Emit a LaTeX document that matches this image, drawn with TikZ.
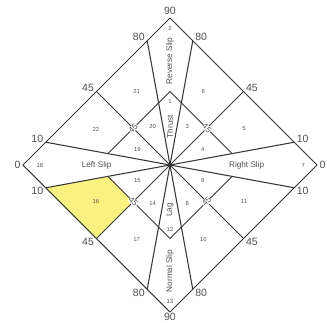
\documentclass[tikz,border=0pt]{standalone}
\usepackage{fontspec}
\setmainfont{Liberation Sans}
\usetikzlibrary{calc}

\definecolor{slipyellow}{RGB}{250,242,128}
\definecolor{lineink}{RGB}{55,55,55}
\definecolor{textink}{RGB}{80,80,80}

\begin{document}
\begin{tikzpicture}[
  % --- global styling
  faultline/.style={draw=lineink, line width=0.9pt, line join=round},
  edgelabel/.style={text=textink, font=\fontsize{9}{10}\selectfont, inner sep=2pt},
  midlabel/.style={text=textink, font=\fontsize{7}{8}\selectfont, fill=white, inner sep=0.2pt},
  fieldnum/.style={text=textink, font=\fontsize{5}{6}\selectfont, inner sep=0pt},
  fieldname/.style={text=textink, font=\fontsize{7}{8}\selectfont, inner sep=0pt},
]

\def\R{4.41}
\useasboundingbox (-5.1,-4.71) rectangle (4.71,4.95);

%========================
% Corners of the diamond
%========================
\coordinate (C) at (0,0);
\coordinate (L) at (-\R,0);
\coordinate (T) at (0,\R);
\coordinate (Rv) at (\R,0);
\coordinate (B) at (0,-\R);

% tick points on the four sides (0 at side corner, 90 at top/bottom)
\foreach \s/\a/\b in {UL/L/T, UR/Rv/T, LL/L/B, LR/Rv/B} {
  \coordinate (\s10) at ($(\a)!0.155!(\b)$);
  \coordinate (\s45) at ($(\a)!0.5!(\b)$);
  \coordinate (\s80) at ($(\a)!0.845!(\b)$);
  % half way in, on the rays
  \coordinate (\s10i) at ($(C)!0.5!(\s10)$);
  \coordinate (\s45i) at ($(C)!0.5!(\s45)$);
  \coordinate (\s80i) at ($(C)!0.5!(\s80)$);
}
\coordinate (Ti) at ($(C)!0.5!(T)$);
\coordinate (Bi) at ($(C)!0.5!(B)$);

% highlighted field
\fill[slipyellow] (LL10) -- (LL10i) -- (LL45i) -- (LL45) -- cycle;

%========================
% Lines
%========================
\foreach \s in {UL,UR,LL,LR}
  \foreach \k in {10,45,80}
    \draw[faultline] (C) -- (\s\k);

\draw[faultline] (UL10i) -- (Ti) -- (UR10i);
\draw[faultline] (LL10i) -- (Bi) -- (LR10i);

\draw[faultline] (L) -- (T) -- (Rv) -- (B) -- cycle;

%========================
% Angle labels
%========================
\node[edgelabel, anchor=east] (lbl-L) at (L) {0};
\node[edgelabel, anchor=west] (lbl-R) at (Rv) {0};
\node[edgelabel, anchor=south, inner sep=2.5pt] (lbl-T) at (T) {90};
\node[edgelabel, anchor=north, inner sep=0.6pt] (lbl-B) at (B) {90};

\foreach \s/\anc/\dy in {UL/east/3pt, UR/west/3pt, LL/east/-3pt, LR/west/-3pt}
  \foreach \k in {10,45,80}
    \node[edgelabel, anchor=\anc, yshift=\dy] (lbl-\s\k) at (\s\k) {\k};

\node[midlabel, rotate=45] (mid-UL) at (UL45i) {45};
\node[midlabel, rotate=-45] (mid-UR) at (UR45i) {45};
\node[midlabel, rotate=-45] (mid-LL) at (LL45i) {45};
\node[midlabel, rotate=45] (mid-LR) at (LR45i) {45};

%========================
% Field numbers and names
%========================
\node[fieldnum] (f1) at (0,1.9) {1};
\node[fieldnum] (f2) at (0,4.1) {2};
\node[fieldnum] (f3) at (0.52,1.16) {3};
\node[fieldnum] (f4) at (0.98,0.46) {4};
\node[fieldnum] (f5) at (2.22,1.08) {5};
\node[fieldnum] (f6) at (1.0,2.22) {6};
\node[fieldnum] (f7) at (4.0,0) {7};
\node[fieldnum] (f8) at (0.52,-1.16) {8};
\node[fieldnum] (f9) at (0.98,-0.46) {9};
\node[fieldnum] (f10) at (1.0,-2.22) {10};
\node[fieldnum] (f11) at (2.22,-1.08) {11};
\node[fieldnum] (f12) at (0,-1.92) {12};
\node[fieldnum] (f13) at (0,-4.1) {13};
\node[fieldnum] (f14) at (-0.52,-1.16) {14};
\node[fieldnum] (f15) at (-0.98,-0.46) {15};
\node[fieldnum] (f16) at (-2.22,-1.08) {16};
\node[fieldnum] (f17) at (-1.0,-2.22) {17};
\node[fieldnum] (f18) at (-3.9,0) {18};
\node[fieldnum] (f19) at (-0.98,0.46) {19};
\node[fieldnum] (f20) at (-0.52,1.16) {20};
\node[fieldnum] (f21) at (-1.0,2.22) {21};
\node[fieldnum] (f22) at (-2.22,1.08) {22};

\node[fieldname, rotate=90] (n-reverse) at (0,3.12) {Reverse Slip};
\node[fieldname, rotate=90] (n-thrust) at (0,1.15) {Thrust};
\node[fieldname, rotate=90] (n-lag) at (0,-1.35) {Lag};
\node[fieldname, rotate=90] (n-normal) at (0,-3.18) {Normal Slip};
\node[fieldname] (n-left) at (-2.2,0) {Left Slip};
\node[fieldname] (n-right) at (2.3,0) {Right Slip};

\end{tikzpicture}
\end{document}
